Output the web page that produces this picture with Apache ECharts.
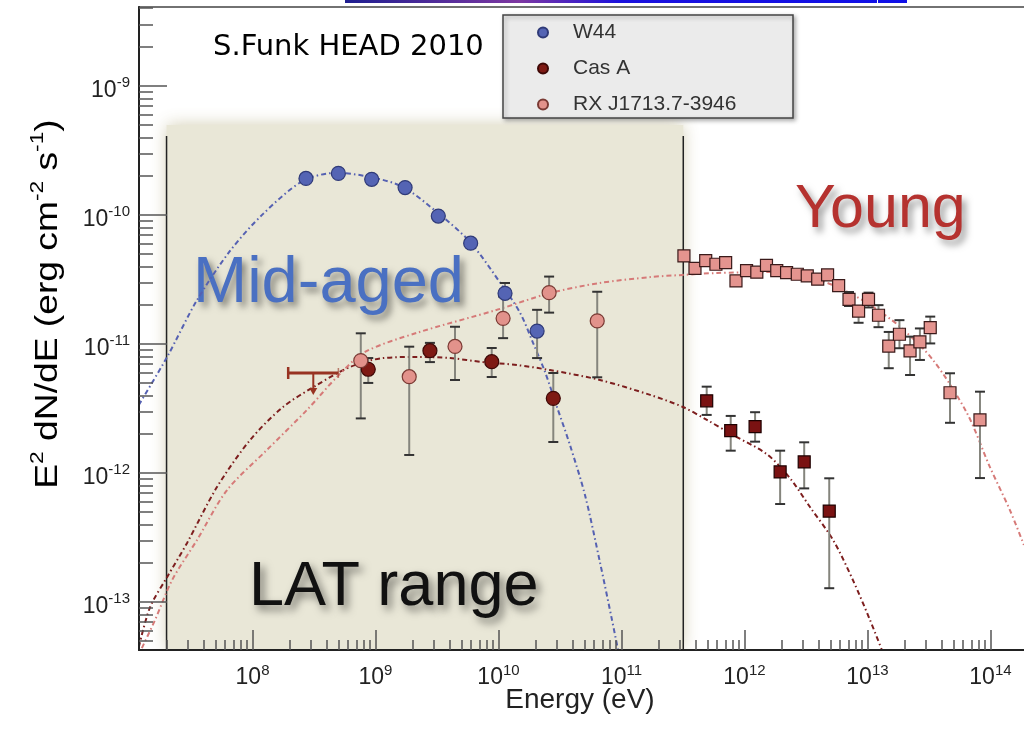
<!DOCTYPE html>
<html>
<head>
<meta charset="utf-8">
<title>SNR spectra</title>
<script src="https://cdn.jsdelivr.net/npm/echarts@6/dist/echarts.min.js"></script>
<style>
  html, body { margin: 0; padding: 0; background: #fff; }
  #chart { width: 1024px; height: 731px; }
</style>
</head>
<body>
<div id="chart"></div>
<script>
// plot frame: energy (eV) and E^2 dN/dE (erg cm^-2 s^-1)
const xRange = [1.194e7, 1.946e14];
const yRange = [4.25e-14, 4.09e-9];
const xMajor = [1e8, 1e9, 1e10, 1e11, 1e12, 1e13, 1e14];
const yMajor = [1e-13, 1e-12, 1e-11, 1e-10, 1e-9];

// LAT band
const latRange = [2.0e7, 3.18e11];
const latTop = 4.99e-10;
const latLineTop = 4.09e-10;

// W44 (Fermi-LAT)
const w44E = [2.72e8, 4.99e8, 9.31e8, 1.74e9, 3.24e9, 5.94e9, 1.13e10, 2.06e10];
const w44F = [1.92e-10, 2.10e-10, 1.89e-10, 1.63e-10, 9.8e-11, 6.04e-11, 2.47e-11, 1.26e-11];
const w44Lo = [null, null, null, null, null, null, 2.31e-11, 7.78e-12];
const w44Hi = [null, null, null, null, null, null, 2.97e-11, 1.84e-11];

// Cas A (LAT circles, TeV squares, LAT upper limit)
const casLatE = [8.73e8, 2.77e9, 8.81e9, 2.79e10];
const casLatF = [6.37e-12, 8.87e-12, 7.29e-12, 3.79e-12];
const casLatLo = [4.99e-12, 7.24e-12, 5.55e-12, 1.74e-12];
const casLatHi = [7.78e-12, 1.02e-11, 9.31e-12, 5.96e-12];
const casTevE = [4.93e11, 7.73e11, 1.22e12, 1.95e12, 3.06e12, 4.89e12];
const casTevF = [3.63e-12, 2.13e-12, 2.29e-12, 1.02e-12, 1.22e-12, 5.07e-13];
const casTevLo = [2.82e-12, 1.49e-12, 1.75e-12, 5.75e-13, 7.60e-13, 1.28e-13];
const casTevHi = [4.67e-12, 2.77e-12, 2.96e-12, 1.49e-12, 1.73e-12, 9.10e-13];
const casUlE = [1.95e8, 3.12e8, 4.99e8];
const casUlF = [5.96e-12, 4.03e-12];

// RX J1713.7-3946
const rxLatE = [7.59e8, 1.88e9, 4.43e9, 1.09e10, 2.58e10, 6.35e10];
const rxLatF = [7.43e-12, 5.58e-12, 9.57e-12, 1.58e-11, 2.50e-11, 1.51e-11];
const rxLatLo = [2.65e-12, 1.38e-12, 5.26e-12, 1.11e-11, 1.75e-11, 5.52e-12];
const rxLatHi = [1.21e-11, 9.53e-12, 1.36e-11, 2.33e-11, 3.33e-11, 2.54e-11];
const rxTevE = [3.22e11, 3.96e11, 4.84e11, 5.86e11, 7.03e11, 8.53e11, 1.04e12, 1.26e12, 1.51e12,
  1.83e12, 2.20e12, 2.69e12, 3.24e12, 3.94e12, 4.74e12, 5.83e12, 7.08e12, 8.47e12, 1.02e13,
  1.23e13, 1.49e13, 1.82e13, 2.22e13, 2.67e13, 3.24e13, 4.69e13, 8.22e13];
const rxTevF = [4.81e-11, 3.86e-11, 4.43e-11, 4.15e-11, 4.27e-11, 3.08e-11, 3.70e-11, 3.60e-11, 4.07e-11,
  3.70e-11, 3.57e-11, 3.47e-11, 3.37e-11, 3.18e-11, 3.43e-11, 2.83e-11, 2.22e-11, 1.80e-11, 2.22e-11,
  1.67e-11, 9.64e-12, 1.19e-11, 8.83e-12, 1.04e-11, 1.34e-11, 4.19e-12, 2.58e-12];
const rxTevLo = [null, null, null, null, null, null, null, null, null,
  null, null, null, null, null, null, null, 1.97e-11, 1.46e-11, 1.92e-11,
  1.35e-11, 6.49e-12, 9.27e-12, 5.75e-12, 7.52e-12, 1.01e-11, 2.45e-12, 9.14e-13];
const rxTevHi = [null, null, null, null, null, null, null, null, null,
  null, null, null, null, null, null, null, 2.53e-11, 1.95e-11, 2.50e-11,
  2.00e-11, 1.24e-11, 1.53e-11, 1.14e-11, 1.32e-11, 1.63e-11, 5.93e-12, 4.27e-12];

// model curves
const w44ModelE = [1.19e7, 2.02e7, 3.54e7, 6.56e7, 1.22e8, 2.58e8, 4.86e8, 9.02e8, 1.67e9, 3.16e9, 5.86e9,
  1.09e10, 1.50e10, 1.91e10, 2.39e10, 2.99e10, 3.81e10, 5.05e10, 6.68e10, 8.38e10, 9.38e10];
const w44ModelF = [3.37e-12, 7.93e-12, 2.19e-11, 5.26e-11, 1.02e-10, 1.84e-10, 2.12e-10, 1.97e-10, 1.65e-10, 1.05e-10, 6.18e-11,
  2.77e-11, 1.74e-11, 1.02e-11, 6.07e-12, 3.25e-12, 1.65e-12, 6.75e-13, 2.04e-13, 7.24e-14, 4.25e-14];
const casModelE = [1.19e7, 1.47e7, 2.02e7, 2.93e7, 5.14e7, 9.55e7, 1.77e8, 3.34e8, 6.21e8, 1.15e9, 2.17e9,
  4.04e9, 7.48e9, 1.41e10, 2.62e10, 6.68e10, 1.71e11, 3.16e11, 4.95e11, 8.07e11, 1.52e12, 2.34e12,
  3.41e12, 5.25e12, 7.62e12, 1.05e13, 1.31e13];
const casModelF = [4.48e-14, 9.14e-14, 1.56e-13, 2.86e-13, 7.78e-13, 1.80e-12, 3.25e-12, 4.81e-12, 6.64e-12, 7.78e-12, 7.93e-12,
  7.78e-12, 7.24e-12, 6.87e-12, 6.28e-12, 5.26e-12, 4.03e-12, 3.25e-12, 2.58e-12, 1.97e-12, 1.40e-12, 9.14e-13,
  5.45e-13, 3.03e-13, 1.48e-13, 7.24e-14, 4.25e-14];
const rxModelE = [1.26e7, 1.61e7, 2.22e7, 3.54e7, 6.21e7, 1.31e8, 2.77e8, 4.86e8, 8.22e8, 2.17e9, 9.72e9,
  2.62e10, 6.68e10, 1.71e11, 3.16e11, 5.97e11, 1.52e12, 2.82e12, 5.25e12, 9.91e12, 1.84e13, 3.41e13,
  6.44e13, 9.91e13, 1.44e14, 1.87e14];
const rxModelF = [4.40e-14, 7.24e-14, 1.48e-13, 3.03e-13, 7.38e-13, 1.51e-12, 3.08e-12, 5.55e-12, 8.67e-12, 1.22e-11, 1.84e-11,
  2.48e-11, 2.97e-11, 3.30e-11, 3.43e-11, 3.55e-11, 3.61e-11, 3.43e-11, 2.86e-11, 2.08e-11, 1.36e-11, 7.52e-12,
  2.92e-12, 1.11e-12, 5.16e-13, 2.77e-13];

const sans = 'Liberation Sans, Arial, sans-serif';

function minorTicks(range) {
  const out = [];
  const lo = Math.floor(Math.log10(range[0]));
  const hi = Math.ceil(Math.log10(range[1]));
  for (let p = lo; p < hi; p++) {
    for (let m = 2; m < 10; m++) {
      const v = m * Math.pow(10, p);
      if (v > range[0] && v < range[1]) out.push(v);
    }
  }
  return out;
}

const pts = (E, F) => E.map((e, i) => [e, F[i]]);
const bars = (E, lo, hi) => E.map((e, i) => [e, lo[i], hi[i]]).filter(d => d[1] != null);
const powLabel = v => '{b|10}{s|' + Math.round(Math.log10(v)) + '}';

const labelRich = {
  b: { fontSize: 23, lineHeight: 30, color: '#222', fontFamily: sans },
  s: { fontSize: 15, lineHeight: 16, verticalAlign: 'top', color: '#222', fontFamily: sans }
};

function latBox(params, api) {
  const tl = api.coord([api.value(0), api.value(2)]);
  const br = api.coord([api.value(1), yRange[0]]);
  const lt = api.coord([api.value(0), latLineTop]);
  const rt = api.coord([api.value(1), latLineTop]);
  return {
    type: 'group',
    children: [
      {
        type: 'rect',
        shape: { x: tl[0], y: tl[1], width: br[0] - tl[0], height: br[1] - tl[1] },
        style: { fill: '#e9e7d7', shadowBlur: 16, shadowColor: 'rgba(205,200,170,0.9)' }
      },
      { type: 'line', shape: { x1: lt[0], y1: lt[1], x2: lt[0], y2: br[1] }, style: { stroke: '#222', lineWidth: 1.5 } },
      { type: 'line', shape: { x1: rt[0], y1: rt[1], x2: rt[0], y2: br[1] }, style: { stroke: '#222', lineWidth: 1.5 } }
    ]
  };
}

function errorBar(params, api) {
  const x = api.value(0);
  const lo = api.coord([x, api.value(1)]);
  const hi = api.coord([x, api.value(2)]);
  const w = 5;
  return {
    type: 'group',
    children: [
      { type: 'line', shape: { x1: lo[0], y1: lo[1], x2: hi[0], y2: hi[1] }, style: { stroke: '#85857d', lineWidth: 2 } },
      { type: 'line', shape: { x1: lo[0] - w, y1: lo[1], x2: lo[0] + w, y2: lo[1] }, style: { stroke: '#333', lineWidth: 2 } },
      { type: 'line', shape: { x1: hi[0] - w, y1: hi[1], x2: hi[0] + w, y2: hi[1] }, style: { stroke: '#333', lineWidth: 2 } }
    ]
  };
}

function upperLimit(params, api) {
  const a = api.coord([api.value(0), api.value(3)]);
  const c = api.coord([api.value(1), api.value(3)]);
  const b = api.coord([api.value(2), api.value(3)]);
  const d = api.coord([api.value(1), api.value(4)]);
  const col = '#983322';
  return {
    type: 'group',
    children: [
      { type: 'line', shape: { x1: a[0], y1: a[1], x2: b[0], y2: b[1] }, style: { stroke: col, lineWidth: 3 } },
      { type: 'line', shape: { x1: a[0], y1: a[1] - 6, x2: a[0], y2: a[1] + 6 }, style: { stroke: col, lineWidth: 2.5 } },
      { type: 'line', shape: { x1: b[0], y1: b[1] - 5, x2: b[0], y2: b[1] + 5 }, style: { stroke: col, lineWidth: 1.5, opacity: 0.6 } },
      { type: 'line', shape: { x1: c[0], y1: c[1], x2: d[0], y2: d[1] - 4 }, style: { stroke: col, lineWidth: 2 } },
      { type: 'polygon', shape: { points: [[d[0] - 4, d[1] - 7], [d[0] + 4, d[1] - 7], [d[0], d[1]]] }, style: { fill: col } }
    ]
  };
}

const modelLine = (name, E, F, color) => ({
  type: 'line', name: name, z: 3, data: pts(E, F), symbol: 'none', smooth: 0.3, clip: true, silent: true,
  lineStyle: { color: color, width: 2, type: [5, 3, 1.5, 3] }
});

const barSeries = (name, data) => ({
  type: 'custom', name: name, z: 4, data: data, clip: true, silent: true,
  encode: { x: 0, y: [1, 2] }, renderItem: errorBar
});

const markers = (name, data, symbol, size, fill, border) => ({
  type: 'scatter', name: name, z: 5, data: data, symbol: symbol, symbolSize: size, clip: true,
  itemStyle: { color: fill, borderColor: border, borderWidth: 1.2, opacity: 1 }
});

const tickLine = { color: '#555', width: 1.5 };

const chart = echarts.init(document.getElementById('chart'), null, { renderer: 'canvas' });

chart.setOption({
  animation: false,
  backgroundColor: '#fff',
  grid: {
    left: 139, top: 7, right: -2, bottom: 81,
    show: true, borderColor: '#444', borderWidth: 1.5, backgroundColor: 'transparent',
    containLabel: false, outerBoundsMode: 'none'
  },
  xAxis: [
    {
      type: 'log', logBase: 10, min: xRange[0], max: xRange[1], position: 'bottom', z: 6,
      axisLine: { show: true, onZero: false, lineStyle: { color: '#222', width: 2 } },
      axisTick: { show: true, inside: true, length: 20, customValues: xMajor, lineStyle: tickLine },
      axisLabel: { show: true, customValues: xMajor, formatter: powLabel, margin: 13, rich: labelRich },
      splitLine: { show: false }, minorTick: { show: false }
    },
    {
      type: 'log', logBase: 10, min: xRange[0], max: xRange[1], position: 'bottom', z: 6,
      axisLine: { show: false },
      axisTick: { show: true, inside: true, length: 10, customValues: minorTicks(xRange), lineStyle: tickLine },
      axisLabel: { show: false },
      splitLine: { show: false }
    }
  ],
  yAxis: [
    {
      type: 'log', logBase: 10, min: yRange[0], max: yRange[1], position: 'left', z: 6,
      axisLine: { show: true, onZero: false, lineStyle: { color: '#222', width: 2 } },
      axisTick: { show: true, inside: true, length: 28, customValues: yMajor, lineStyle: tickLine },
      axisLabel: { show: true, customValues: yMajor, formatter: powLabel, margin: 9, padding: [9, 0, 0, 0], rich: labelRich },
      splitLine: { show: false }, minorTick: { show: false }
    },
    {
      type: 'log', logBase: 10, min: yRange[0], max: yRange[1], position: 'left', z: 6,
      axisLine: { show: false },
      axisTick: { show: true, inside: true, length: 14, customValues: minorTicks(yRange), lineStyle: tickLine },
      axisLabel: { show: false },
      splitLine: { show: false }
    }
  ],
  legend: {
    data: [
      { name: 'W44', icon: 'circle' },
      { name: 'Cas A', icon: 'circle' },
      { name: 'RX J1713.7-3946', icon: 'circle' }
    ],
    orient: 'vertical', left: 537, top: 22, padding: 0,
    itemWidth: 10, itemHeight: 10, itemGap: 15, selectedMode: false, z: 4,
    textStyle: { fontSize: 21, lineHeight: 20, color: '#333', fontFamily: sans, padding: [0, 0, 0, 20] }
  },
  graphic: [
    {
      type: 'rect', z: 0, silent: true,
      shape: { x: 345, y: 0, width: 562, height: 3 },
      style: {
        fill: {
          type: 'linear', x: 0, y: 0, x2: 1, y2: 0,
          colorStops: [
            { offset: 0, color: '#1e1e90' }, { offset: 0.31, color: '#7e38a2' },
            { offset: 0.49, color: '#1c12de' }, { offset: 1, color: '#1010e8' }
          ]
        }
      }
    },
    { type: 'rect', z: 1, silent: true, shape: { x: 877, y: 0, width: 1, height: 3 }, style: { fill: '#fff' } },
    {
      type: 'rect', z: 3, silent: true,
      shape: { x: 503, y: 15, width: 290, height: 103 },
      style: { fill: '#ebebeb', stroke: '#444', lineWidth: 1.5, shadowBlur: 4, shadowOffsetX: 2, shadowOffsetY: 2, shadowColor: 'rgba(0,0,0,0.3)' }
    },
    {
      type: 'text', z: 3, silent: true, x: 213, y: 47,
      style: { text: 'S.Funk HEAD 2010', fontFamily: 'DejaVu Sans', fontSize: 29, fill: '#000', verticalAlign: 'middle' }
    },
    {
      type: 'text', z: 2, silent: true, x: 48, y: 304, rotation: Math.PI / 2, scaleX: 1.2,
      style: {
        text: '{m|E}{s|2}{m| dN/dE (erg cm}{s|-2}{m| s}{s|-1}{m|)}',
        align: 'center', verticalAlign: 'middle',
        rich: {
          m: { fontSize: 31, lineHeight: 40, fontFamily: sans, color: '#222' },
          s: { fontSize: 19, lineHeight: 20, verticalAlign: 'top', fontFamily: sans, color: '#222' }
        }
      }
    },
    {
      type: 'text', z: 2, silent: true, x: 580, y: 700,
      style: { text: 'Energy (eV)', fontFamily: sans, fontSize: 28, fill: '#222', align: 'center', verticalAlign: 'middle' }
    },
    {
      type: 'text', z: 2, silent: true, x: 193, y: 284,
      style: {
        text: 'Mid-aged', fontFamily: sans, fontSize: 65, fill: '#4a70c2', verticalAlign: 'middle',
        textShadowColor: 'rgba(0,0,0,0.45)', textShadowBlur: 7, textShadowOffsetX: 4, textShadowOffsetY: 5
      }
    },
    {
      type: 'text', z: 2, silent: true, x: 795, y: 210,
      style: {
        text: 'Young', fontFamily: sans, fontSize: 61, fill: '#b5322f', verticalAlign: 'middle',
        textShadowColor: 'rgba(0,0,0,0.4)', textShadowBlur: 7, textShadowOffsetX: 4, textShadowOffsetY: 5
      }
    },
    {
      type: 'text', z: 2, silent: true, x: 249, y: 588,
      style: {
        text: 'LAT range', fontFamily: sans, fontSize: 63, fill: '#111', verticalAlign: 'middle',
        textShadowColor: 'rgba(0,0,0,0.5)', textShadowBlur: 8, textShadowOffsetX: 4, textShadowOffsetY: 5
      }
    }
  ],
  series: [
    {
      type: 'custom', name: 'LAT band', z: 1, silent: true, clip: true,
      data: [[latRange[0], latRange[1], latTop]],
      encode: { x: [0, 1], y: 2 }, renderItem: latBox
    },
    modelLine('W44 model', w44ModelE, w44ModelF, '#5561b2'),
    modelLine('Cas A model', casModelE, casModelF, '#7d1e1e'),
    modelLine('RX model', rxModelE, rxModelF, '#d67a78'),
    barSeries('W44 err', bars(w44E, w44Lo, w44Hi)),
    barSeries('Cas A LAT err', bars(casLatE, casLatLo, casLatHi)),
    barSeries('Cas A TeV err', bars(casTevE, casTevLo, casTevHi)),
    barSeries('RX LAT err', bars(rxLatE, rxLatLo, rxLatHi)),
    barSeries('RX TeV err', bars(rxTevE, rxTevLo, rxTevHi)),
    {
      type: 'custom', name: 'Cas A UL', z: 4, silent: true, clip: true,
      data: [[casUlE[0], casUlE[1], casUlE[2], casUlF[0], casUlF[1]]],
      encode: { x: [0, 1, 2], y: [3, 4] }, renderItem: upperLimit
    },
    markers('W44', pts(w44E, w44F), 'circle', 14, '#5464b4', '#2f3a78'),
    markers('Cas A', pts(casLatE, casLatF), 'circle', 14, '#7e1a14', '#3e0806'),
    markers('Cas A', pts(casTevE, casTevF), 'rect', 12, '#7a1212', '#1e0000'),
    markers('RX J1713.7-3946', pts(rxLatE, rxLatF), 'circle', 14, '#e2928b', '#7a3a34'),
    markers('RX J1713.7-3946', pts(rxTevE, rxTevF), 'rect', 12, '#e4948f', '#3a1a1a')
  ]
});
</script>
</body>
</html>
